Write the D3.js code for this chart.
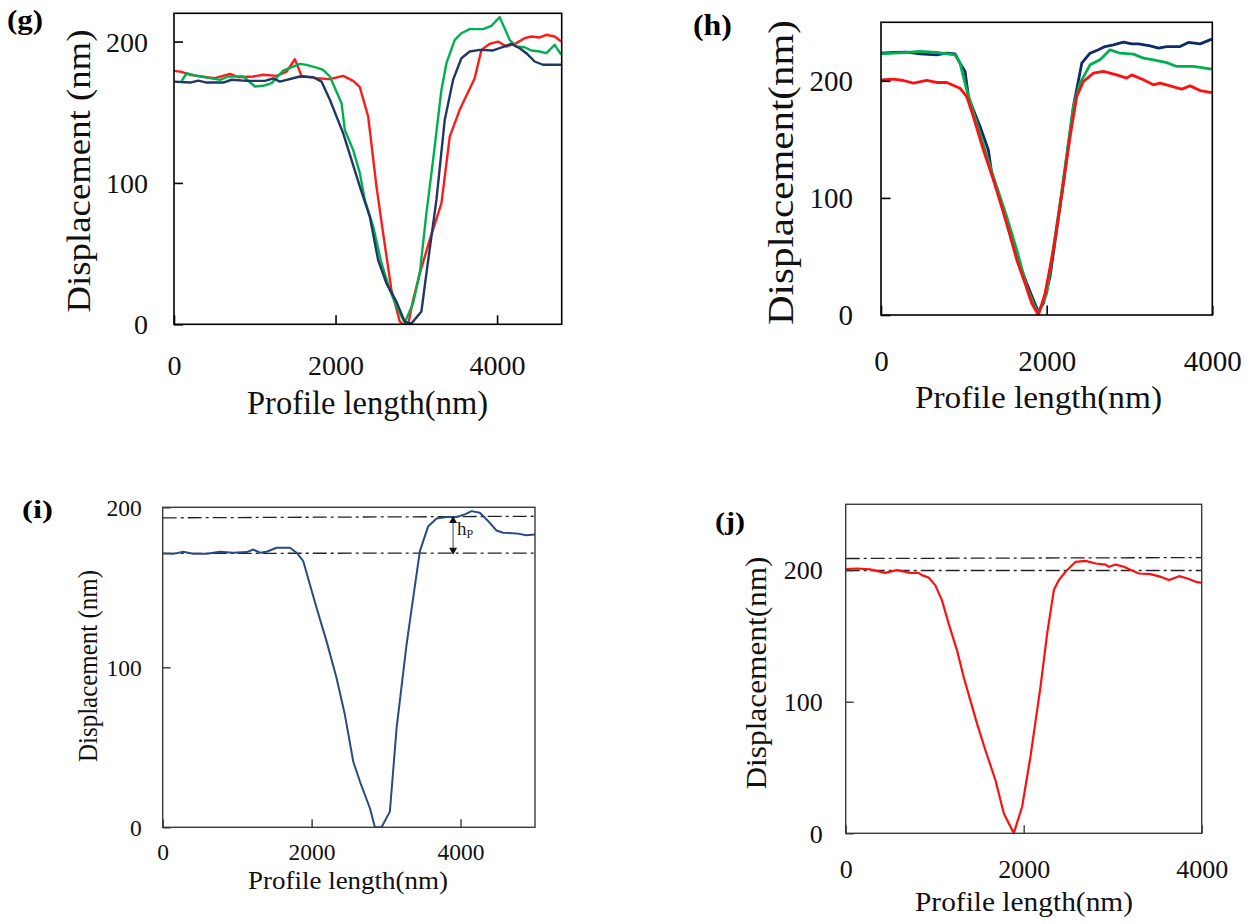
<!DOCTYPE html>
<html><head><meta charset="utf-8">
<script src="https://cdn.jsdelivr.net/npm/d3@7"></script>
<style>
body{margin:0;background:#fff}
svg{display:block}
text{font-family:"Liberation Serif","Times New Roman",serif}
</style>
</head><body>
<svg id="c" width="1255" height="924"></svg>
<script>
// ---------- data (x: profile length nm, y: displacement nm) ----------
const xTicks = [0, 2000, 4000];
const yTicks = [0, 100, 200];
const panelLabels = ["(g)", "(h)", "(i)", "(j)"];
const xTitle = "Profile length(nm)";
const yTitles = ["Displacement (nm)", "Displacement(nm)", "Displacement (nm)", "Displacement(nm)"];

const g_navy = [[0,171.7],[198,171],[301,172.4],[404,171],[610,171],[713,173],[899,172.2],[1126,172.2],[1229,174],[1311,171.7],[1558,175.3],[1723,174.8],[1826,171.7],[1930,158.8],[2094,135.2],[2301,97.4],[2424,76.2],[2527,45.5],[2630,29],[2754,16],[2857,1.9],[2940,0.5],[3063,9],[3125,36],[3249,88],[3352,144.6],[3455,172.9],[3558,188.2],[3661,193],[3785,194.1],[3950,193.7],[4032,195.3],[4177,198.4],[4280,195.3],[4362,191.8],[4465,185.9],[4568,183.6],[4795,183.6]];
const g_red = [[0,179.3],[95,178.6],[198,176.5],[404,174.8],[507,174.1],[693,177.2],[796,174.8],[981,175.3],[1105,176.5],[1270,175.7],[1394,178.8],[1497,187.5],[1579,175.7],[1765,174.1],[1930,173.4],[2094,175.7],[2218,172.2],[2301,167.7],[2404,147],[2507,97.4],[2589,64.4],[2692,24.3],[2795,2],[2830,0],[2900,0],[2960,17.2],[3043,36],[3166,59.7],[3311,85.6],[3414,132.8],[3537,151.7],[3723,174.1],[3806,194.1],[3909,198.4],[4012,200],[4115,196.5],[4238,198.9],[4341,202.4],[4424,203.6],[4527,202.9],[4609,204.8],[4713,203.6],[4795,200]];
const g_green = [[95,172.2],[157,177.6],[280,175.7],[445,174.1],[569,172.9],[672,175.3],[858,175.3],[1002,168.2],[1105,168.7],[1208,170.6],[1352,179.5],[1558,184.2],[1641,183.5],[1765,181.6],[1847,180],[1930,175.3],[2074,156.4],[2115,137.5],[2218,123.4],[2301,106.9],[2362,88],[2466,69.1],[2569,43.2],[2672,24.3],[2775,10.1],[2857,1.2],[2960,14.9],[3043,36.1],[3125,78.6],[3208,116.3],[3311,165.8],[3373,184.7],[3476,201.2],[3558,205.9],[3661,208.8],[3826,208.8],[3929,211.1],[4032,217.3],[4156,201.2],[4238,196.5],[4341,196],[4424,193.7],[4527,193],[4609,191.8],[4713,197.7],[4795,190.6]];

const h_navy = [[0,223.6],[149,224.2],[310,224.5],[471,223.1],[672,222.2],[793,223.6],[894,223.1],[954,215.1],[1015,208],[1055,186.6],[1115,175.2],[1196,161],[1296,141],[1337,121],[1417,104],[1518,78.3],[1639,49.9],[1759,27.1],[1840,12.8],[1900,2.8],[1961,10],[2041,32.8],[2202,112.5],[2323,178],[2424,215.1],[2524,223.6],[2625,226.5],[2705,229.3],[2806,230.8],[2927,233],[3028,231.6],[3108,231.6],[3249,229.9],[3350,227.9],[3450,229.3],[3611,229.3],[3712,232.8],[3853,231.6],[3994,235.6]];
const h_green = [[0,223.1],[149,223.6],[310,224.2],[471,225.1],[672,224.2],[894,222.2],[954,215.1],[1035,192.3],[1155,163.8],[1357,118.2],[1518,84],[1639,55.6],[1759,24.2],[1840,10],[1900,1.4],[2001,18.5],[2162,95.4],[2323,178],[2403,198],[2524,213.7],[2645,218],[2766,226.5],[2887,223.6],[3048,222.8],[3168,219.4],[3289,218],[3450,215.6],[3571,212.3],[3772,212.3],[3994,210]];
const h_red = [[0,200.9],[149,201.4],[270,200.3],[391,198],[552,200.3],[672,198.6],[793,198.6],[954,193.7],[1035,186.6],[1115,169.5],[1236,141],[1357,115.4],[1518,78.3],[1639,47],[1739,27.1],[1820,10],[1900,0],[1981,18.5],[2081,55.6],[2202,112.5],[2283,152.4],[2363,186.6],[2444,199.4],[2565,206.6],[2685,208],[2846,205.1],[2967,202.3],[3028,205.1],[3168,200.9],[3289,196.6],[3370,198],[3490,195.7],[3631,192.9],[3732,195.7],[3853,191.7],[3994,190]];

const i_navy = [[0,171.1],[143,170.9],[277,172.2],[412,170.9],[591,170.9],[770,172.2],[948,171.6],[1127,172],[1217,173.6],[1306,171.6],[1396,172.2],[1530,174.7],[1709,174.7],[1799,171.6],[1888,166.3],[2067,137.1],[2201,116.2],[2335,93.3],[2447,70.3],[2559,41.1],[2649,28.6],[2783,11.9],[2850,0],[2939,0],[3051,9.8],[3141,62],[3275,114.2],[3364,143.4],[3454,172.6],[3566,188.2],[3678,193],[3812,193.9],[3946,193.9],[4058,195.6],[4147,197.6],[4259,196.6],[4371,191.4],[4483,185.5],[4572,184.1],[4751,183.7],[4886,182.6],[5000,183]];
const i_peakLine = [[0,193.4],[5000,194.4]];
const i_baseLine = [[0,171.2],[5000,171.4]];
const i_arrow = [3900, 194, 171];   // x, top, bottom

const j_red = [[0,200.7],[124,201.2],[274,200.5],[443,197.9],[574,200],[725,197.9],[818,197.9],[856,196.2],[931,194.4],[1006,188.6],[1081,177.2],[1156,159.5],[1250,139.2],[1325,119],[1400,101.2],[1475,83.5],[1569,63.3],[1682,40.5],[1776,15.2],[1888,0],[1982,20.2],[2076,58.2],[2189,111.4],[2264,151.9],[2339,184.8],[2395,192.4],[2470,198.7],[2583,206.3],[2695,207],[2808,205],[2921,204.2],[2958,202.5],[3033,204.2],[3127,202.5],[3202,200],[3296,197.4],[3427,196.9],[3540,194.9],[3634,192.4],[3746,195.4],[3840,193.6],[3934,191.1],[4009,190.3]];
const j_peakLine = [[0,208.8],[4000,209.5]];
const j_baseLine = [[0,199.7],[4000,199.7]];

// ---------- layout ----------
const svg = d3.select("#c");
const panels = [
  {id:"g", x0:174, x1:561.7, y0:13.3, y1:324.3, xMax:4800, yMax:220, tick:9, yPad:26, xBase:50.7, tickFont:28, frame:"#000", fw:1.6,
   lab:{x:7, y:29, fs:27, len:36}, xt:{cx:367.5, y:414, fs:34, len:241}, yt:{x:89.5, cy:171, fs:34, len:283},
   series:[{d:g_red,c:"#ff1a1a",w:2.4},{d:g_green,c:"#00b050",w:2.4},{d:g_navy,c:"#1f3864",w:2.4}]},
  {id:"h", x0:881, x1:1212.3, y0:22.3, y1:315, xMax:4000, yMax:250, tick:9.5, yPad:28, xBase:55.5, tickFont:29, frame:"#000", fw:1.6,
   lab:{x:693, y:35, fs:29, len:39}, xt:{cx:1038.5, y:408, fs:32, len:247}, yt:{x:793, cy:172.5, fs:35, len:305},
   series:[{d:h_navy,c:"#0f2a6b",w:2.8},{d:h_green,c:"#00b050",w:2.8},{d:h_red,c:"#ff1010",w:2.8}]},
  {id:"i", x0:162.7, x1:535, y0:507.3, y1:827.3, xMax:5000, yMax:200, tick:8, yPad:21, xBase:33, tickFont:23.5, frame:"#3a3a3a", fw:1.4,
   lab:{x:22, y:518, fs:25, len:31}, xt:{cx:348, y:889, fs:25, len:200}, yt:{x:97, cy:666, fs:28, len:192},
   series:[{d:i_navy,c:"#2a4a82",w:2}]},
  {id:"j", x0:845.7, x1:1201.7, y0:504.3, y1:833.3, xMax:4000, yMax:250, tick:8, yPad:23, xBase:44.7, tickFont:26, frame:"#3a3a3a", fw:1.4,
   lab:{x:715, y:530, fs:25, len:30}, xt:{cx:1024, y:911, fs:28, len:218}, yt:{x:766, cy:673, fs:29, len:233},
   series:[{d:j_red,c:"#ff1010",w:2.2}]}
];

panels.forEach((p, k) => {
  const x = d3.scaleLinear().domain([0, p.xMax]).range([p.x0, p.x1]);
  const y = d3.scaleLinear().domain([0, p.yMax]).range([p.y1, p.y0]);
  const g = svg.append("g").attr("id", "panel-" + p.id);

  g.append("clipPath").attr("id", "clip-" + p.id)
    .append("rect").attr("x", p.x0).attr("y", p.y0).attr("width", p.x1 - p.x0).attr("height", p.y1 - p.y0);

  const line = d3.line().x(d => x(d[0])).y(d => y(d[1]));

  // reference dash-dot lines
  const refs = p.id === "i" ? [i_peakLine, i_baseLine] : p.id === "j" ? [j_peakLine, j_baseLine] : [];
  refs.forEach(r => g.append("path").attr("d", line(r)).attr("fill", "none")
    .attr("stroke", "#222").attr("stroke-width", 1.3).attr("stroke-dasharray", "14,4,3,4"));

  // series
  const plot = g.append("g").attr("clip-path", `url(#clip-${p.id})`);
  p.series.forEach(s => plot.append("path").attr("d", line(s.d)).attr("fill", "none")
    .attr("stroke", s.c).attr("stroke-width", s.w).attr("stroke-linejoin", "round"));

  // arrow + h_p annotation for (i)
  if (p.id === "i") {
    const ax = x(i_arrow[0]), yt = y(i_arrow[1]), yb = y(i_arrow[2]);
    g.append("line").attr("x1", ax).attr("x2", ax).attr("y1", yt + 5).attr("y2", yb - 5)
      .attr("stroke", "#555").attr("stroke-width", 1.1);
    g.append("path").attr("d", `M${ax},${yt - 1}L${ax - 4},${yt + 6}L${ax + 4},${yt + 6}Z`).attr("fill", "#111");
    g.append("path").attr("d", `M${ax},${yb + 1}L${ax - 4},${yb - 6}L${ax + 4},${yb - 6}Z`).attr("fill", "#111");
    const t = g.append("text").attr("x", ax + 4).attr("y", yt + 18).attr("font-size", 19).attr("fill", "#222");
    t.append("tspan").text("h");
    t.append("tspan").attr("font-size", 12).attr("dy", 3).text("P");
  }

  // frame
  g.append("rect").attr("x", p.x0).attr("y", p.y0).attr("width", p.x1 - p.x0).attr("height", p.y1 - p.y0)
    .attr("fill", "none").attr("stroke", p.frame).attr("stroke-width", p.fw);

  // axes (inward ticks)
  const xa = g.append("g").attr("transform", `translate(0,${p.y1})`)
    .call(d3.axisBottom(x).tickValues(xTicks).tickSize(-p.tick).tickFormat(d3.format("d")));
  xa.select(".domain").remove();
  xa.selectAll("line").attr("stroke", p.frame).attr("stroke-width", p.fw);
  xa.selectAll("text").attr("y", p.xBase).attr("dy", null).attr("font-size", p.tickFont)
    .attr("font-family", '"Liberation Serif",serif').attr("fill", "#111");

  const ya = g.append("g").attr("transform", `translate(${p.x0},0)`)
    .call(d3.axisLeft(y).tickValues(yTicks).tickSize(-p.tick).tickPadding(p.yPad));
  ya.select(".domain").remove();
  ya.selectAll("line").attr("stroke", p.frame).attr("stroke-width", p.fw);
  ya.selectAll("text").attr("dy", "0.34em").attr("font-size", p.tickFont)
    .attr("font-family", '"Liberation Serif",serif').attr("fill", "#111");
  xa.attr("font-family", null); ya.attr("font-family", null);

  // titles
  g.append("text").attr("x", p.lab.x).attr("y", p.lab.y).attr("font-size", p.lab.fs).attr("font-weight", "bold")
    .attr("textLength", p.lab.len).attr("lengthAdjust", "spacingAndGlyphs").text(panelLabels[k]);
  g.append("text").attr("x", p.xt.cx - p.xt.len / 2).attr("y", p.xt.y).attr("font-size", p.xt.fs)
    .attr("textLength", p.xt.len).attr("lengthAdjust", "spacingAndGlyphs").attr("fill", "#111").text(xTitle);
  g.append("text").attr("transform", `translate(${p.yt.x},${p.yt.cy + p.yt.len / 2}) rotate(-90)`)
    .attr("font-size", p.yt.fs).attr("textLength", p.yt.len).attr("lengthAdjust", "spacingAndGlyphs")
    .attr("fill", "#111").text(yTitles[k]);
});
</script>
</body></html>
